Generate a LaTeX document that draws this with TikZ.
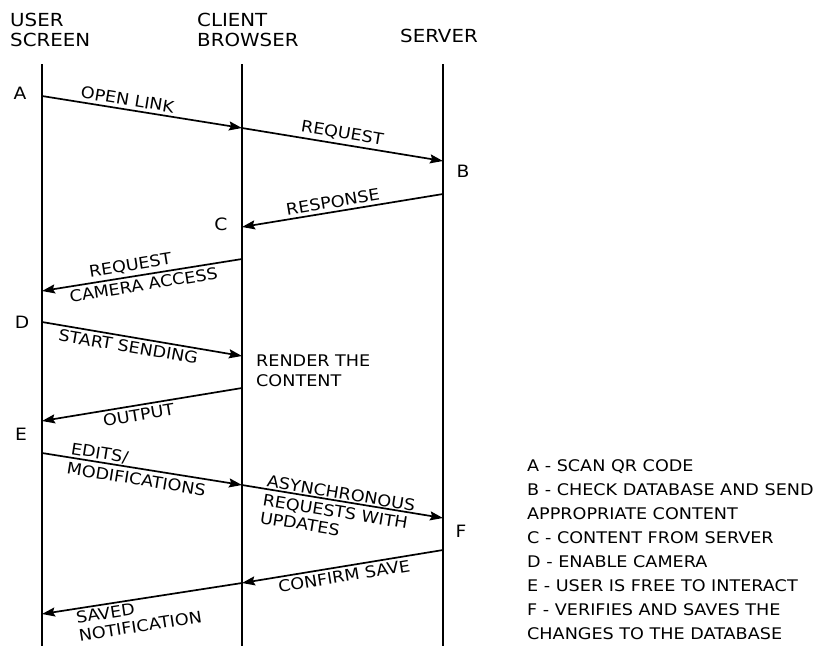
\documentclass[tikz,border=0pt]{standalone}
\usepackage{fontspec}
\setmainfont{DejaVu Sans}[FakeStretch=1.1]
\usetikzlibrary{arrows.meta}
\begin{document}
\begin{tikzpicture}[x=1pt,y=-1pt,
  lifeline/.style={line width=2pt},
  msg/.style={line width=1.7pt,-{Stealth[length=13pt,width=9pt,inset=2pt]}},
  lbl/.style={font=\fontsize{16}{18}\selectfont,inner sep=3pt,sloped},
  hdr/.style={font=\fontsize{18}{20}\selectfont,align=left,inner sep=0pt,anchor=north west},
  letter/.style={font=\fontsize{17}{20}\selectfont,inner sep=0pt},
  note/.style={font=\fontsize{16}{19.5}\selectfont,align=left,inner sep=0pt,anchor=north west}]
\useasboundingbox (0,0) rectangle (819,646);
% headers
\node[hdr] (hu) at (10,13) {USER\\SCREEN};
\node[hdr] (hc) at (197,13) {CLIENT\\BROWSER};
\node[hdr] (hs) at (400,28.5) {SERVER};
% lifelines
\coordinate (u0) at (42,64); \coordinate (u1) at (42,646);
\coordinate (c0) at (242,64); \coordinate (c1) at (242,646);
\coordinate (s0) at (443,64); \coordinate (s1) at (443,646);
\draw[lifeline] (u0) -- (u1);
\draw[lifeline] (c0) -- (c1);
\draw[lifeline] (s0) -- (s1);
% message points
\coordinate (m1a) at (42,96);   \coordinate (m1b) at (242,128);
\coordinate (m2b) at (443,161);
\coordinate (m3a) at (443,194); \coordinate (m3b) at (242,227);
\coordinate (m4a) at (242,259); \coordinate (m4b) at (42,291);
\coordinate (m5a) at (42,322);  \coordinate (m5b) at (242,356);
\coordinate (m6a) at (242,388); \coordinate (m6b) at (42,421);
\coordinate (m7a) at (42,453);  \coordinate (m7b) at (242,485);
\coordinate (m8b) at (443,518);
\coordinate (m9a) at (443,550); \coordinate (m9b) at (242,583);
\coordinate (m10b) at (42,614);
% messages
\draw[msg] (m1a) -- node[lbl,pos=.42,above] {OPEN LINK} (m1b);
\draw[msg] (m1b) -- node[lbl,pos=.49,above] {REQUEST} (m2b);
\draw[msg] (m3a) -- node[lbl,pos=.54,above] {RESPONSE} (m3b);
\draw[msg] (m4a) -- node[lbl,pos=.55,above] {REQUEST}
                    node[lbl,pos=.5,below] {CAMERA ACCESS} (m4b);
\draw[msg] (m5a) -- node[lbl,pos=.44,below] {START SENDING} (m5b);
\draw[msg] (m6a) -- node[lbl,pos=.525,below] {OUTPUT} (m6b);
\draw[msg] (m7a) -- node[lbl,pos=.13,anchor=south west,inner sep=1pt] {EDITS/}
                    node[lbl,pos=.11,anchor=north west,inner sep=4pt] {MODIFICATIONS} (m7b);
\draw[msg] (m7b) -- node[lbl,pos=.11,anchor=south west,inner sep=1pt] {ASYNCHRONOUS}
                    node[lbl,pos=.09,anchor=north west,align=left,inner sep=4pt] {REQUESTS WITH\\UPDATES} (m8b);
\draw[msg] (m9a) -- node[lbl,pos=.5,below] {CONFIRM SAVE} (m9b);
\draw[msg] (m9b) -- node[lbl,pos=.85,anchor=north west,align=left,inner sep=2pt] {SAVED\\NOTIFICATION} (m10b);
% letters
\node[letter] (la) at (20,93) {A};
\node[letter] (lb) at (463,171) {B};
\node[letter] (lc) at (221,224) {C};
\node[letter] (ld) at (22,322) {D};
\node[letter] (le) at (21,434) {E};
\node[letter] (lf) at (461,531) {F};
% render note
\node[note] (render) at (256,355) {RENDER THE\\CONTENT};
% legend
\node[note,font=\fontsize{16}{24}\selectfont] (legend) at (527,459) {A - SCAN QR CODE\\B - CHECK DATABASE AND SEND\\APPROPRIATE CONTENT\\C - CONTENT FROM SERVER\\D - ENABLE CAMERA\\E - USER IS FREE TO INTERACT\\F - VERIFIES AND SAVES THE\\CHANGES TO THE DATABASE};
\end{tikzpicture}
\end{document}
